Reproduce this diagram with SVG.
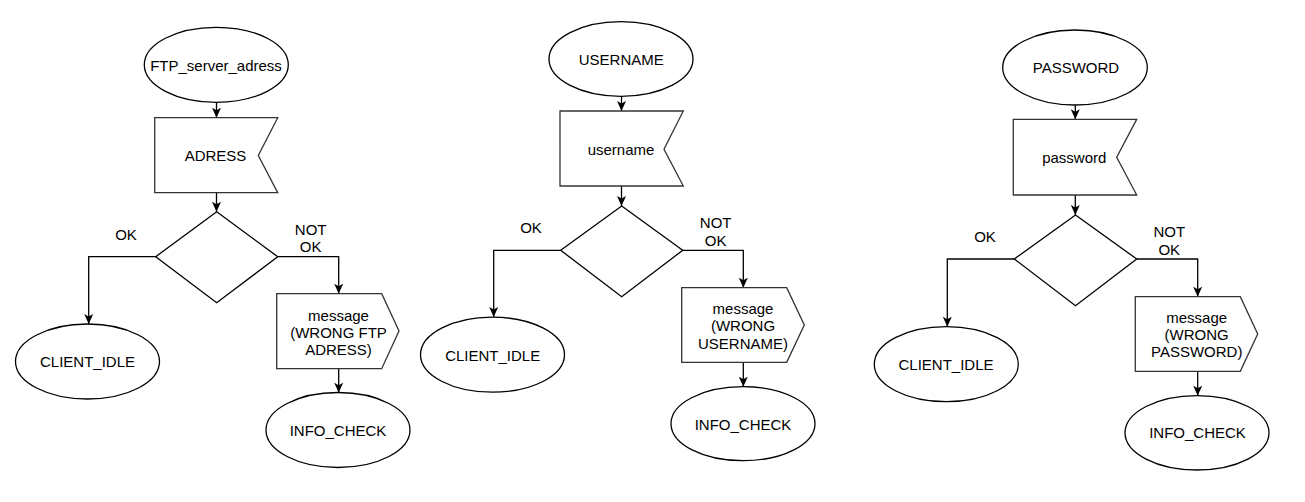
<svg xmlns="http://www.w3.org/2000/svg" width="1305" height="502" viewBox="0 0 1305 502">
<style>
.n{fill:#fff;stroke:#000;stroke-width:1.3}
.b{fill:#fff;stroke:#333;stroke-width:1.3}
.c{fill:none;stroke:#000;stroke-width:1.3}
text{font-family:"Liberation Sans",Arial,sans-serif;font-size:15px;fill:#000;text-anchor:middle}
</style>
<defs>
<marker id="ar" viewBox="0 0 10 10" markerWidth="10" markerHeight="10" refX="10" refY="5" orient="auto" markerUnits="userSpaceOnUse">
<path d="M0,0.5 L10,5 L0,9.5 L2.5,5 Z" fill="#000"/>
</marker>
</defs>
<g id="connectors">
<path class="c" marker-end="url(#ar)" d="M216.5,102.3 L216.5,117.7"/>
<path class="c" marker-end="url(#ar)" d="M216.5,192.7 L216.5,211.7"/>
<path class="c" marker-end="url(#ar)" d="M155.7,256.7 L88.7,256.7 L88.7,324"/>
<path class="c" marker-end="url(#ar)" d="M277.7,256.7 L338.7,256.7 L338.7,293.7"/>
<path class="c" marker-end="url(#ar)" d="M338.7,368.7 L338.7,392.7"/>
<path class="c" marker-end="url(#ar)" d="M621.5,96 L621.5,111"/>
<path class="c" marker-end="url(#ar)" d="M621.5,186 L621.5,206"/>
<path class="c" marker-end="url(#ar)" d="M560.7,250.3 L493.7,250.3 L493.7,317"/>
<path class="c" marker-end="url(#ar)" d="M682.7,250.3 L743.3,250.3 L743.3,287.7"/>
<path class="c" marker-end="url(#ar)" d="M743.3,362.3 L743.3,386.7"/>
<path class="c" marker-end="url(#ar)" d="M1075.3,105 L1075.3,119.3"/>
<path class="c" marker-end="url(#ar)" d="M1075.3,195 L1075.3,215"/>
<path class="c" marker-end="url(#ar)" d="M1014.3,259 L947.3,259 L947.3,326.7"/>
<path class="c" marker-end="url(#ar)" d="M1136.7,259 L1197.7,259 L1197.7,296.7"/>
<path class="c" marker-end="url(#ar)" d="M1197.7,371.3 L1197.7,395.7"/>
</g>
<g id="labels">
<text x="126" y="239.5">OK</text>
<text x="310.7" y="235.4">NOT</text>
<text x="310.7" y="252">OK</text>
<text x="531" y="233">OK</text>
<text x="715.7" y="228">NOT</text>
<text x="715.7" y="245.7">OK</text>
<text x="985" y="242">OK</text>
<text x="1169.3" y="237.4">NOT</text>
<text x="1169.3" y="255.4">OK</text>
</g>
<g id="ftp_server_adress"><ellipse class="n" cx="216.3" cy="64.8" rx="72" ry="37.5"/><text x="216" y="71">FTP_server_adress</text></g>
<g id="adress"><path class="b" d="M154.7,117.7 L277.7,117.7 L258.3,155.5 L277.7,192.7 L154.7,192.7 Z"/><text x="215.5" y="161">ADRESS</text></g>
<g id="decision1"><path class="n" d="M216.7,211.7 L277.7,256.7 L216.7,302.7 L155.7,256.7 Z"/></g>
<g id="client_idle1"><ellipse class="n" cx="87.5" cy="361.5" rx="72" ry="37.5"/><text x="87.5" y="367">CLIENT_IDLE</text></g>
<g id="message1"><path class="b" d="M276.7,293.7 L381.7,293.7 L399,331 L381.7,368.7 L276.7,368.7 Z"/><text x="338.5" y="320.5">message</text><text x="338.5" y="337.5">(WRONG FTP</text><text x="338.5" y="354.5">ADRESS)</text></g>
<g id="info_check1"><ellipse class="n" cx="338" cy="430" rx="72" ry="37.5"/><text x="338" y="436">INFO_CHECK</text></g>
<g id="username_state"><ellipse class="n" cx="621" cy="59" rx="72" ry="37.3"/><text x="621.3" y="64.7">USERNAME</text></g>
<g id="username"><path class="b" d="M560,111 L683.3,111 L664,149.3 L683.3,186 L560,186 Z"/><text x="621" y="155.4">username</text></g>
<g id="decision2"><path class="n" d="M621.7,206 L682.7,250.3 L621.7,296.7 L560.7,250.3 Z"/></g>
<g id="client_idle2"><ellipse class="n" cx="492.5" cy="354.7" rx="72" ry="37.5"/><text x="492.7" y="361">CLIENT_IDLE</text></g>
<g id="message2"><path class="b" d="M681.7,287.7 L786.7,287.7 L804.3,325 L786.7,362.3 L681.7,362.3 Z"/><text x="743" y="313.7">message</text><text x="743" y="331">(WRONG</text><text x="743" y="348.5">USERNAME)</text></g>
<g id="info_check2"><ellipse class="n" cx="743" cy="423.7" rx="72" ry="37"/><text x="743" y="430.4">INFO_CHECK</text></g>
<g id="password_state"><ellipse class="n" cx="1075" cy="67.5" rx="72.3" ry="37.5"/><text x="1076" y="73">PASSWORD</text></g>
<g id="password"><path class="b" d="M1013.3,119.3 L1136.7,119.3 L1116.7,157.3 L1136.7,195 L1013.3,195 Z"/><text x="1074.3" y="163">password</text></g>
<g id="decision3"><path class="n" d="M1075.5,215 L1136.7,259 L1075.5,305.7 L1014.3,259 Z"/></g>
<g id="client_idle3"><ellipse class="n" cx="946.3" cy="364.2" rx="72" ry="37.5"/><text x="946" y="369.7">CLIENT_IDLE</text></g>
<g id="message3"><path class="b" d="M1135.3,296.7 L1240.3,296.7 L1257.7,334 L1240.3,371.3 L1135.3,371.3 Z"/><text x="1196.7" y="322.7">message</text><text x="1196.7" y="340">(WRONG</text><text x="1196.7" y="357.4">PASSWORD)</text></g>
<g id="info_check3"><ellipse class="n" cx="1197" cy="432.8" rx="72" ry="37.2"/><text x="1197.5" y="437.7">INFO_CHECK</text></g>
</svg>
